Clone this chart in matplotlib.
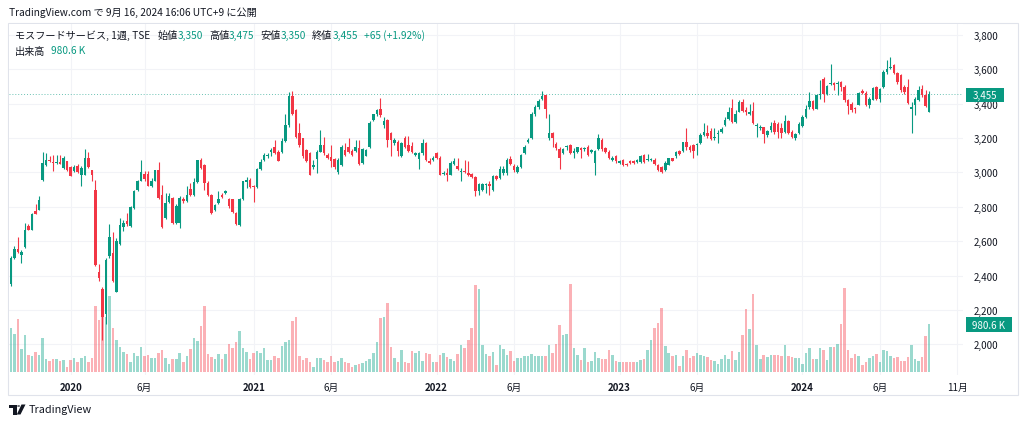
import matplotlib
matplotlib.use("Agg")
import matplotlib.pyplot as plt
from matplotlib.patches import Rectangle, Polygon, Circle
import numpy as np
import pandas as pd

plt.rcParams['font.family'] = ['Noto Sans CJK JP', 'DejaVu Sans']

# ---------------- data (weekly, from 2019-09-09) ----------------
start_date = '2019-09-09'
opens = [
 2351,2501,2553,2521,2567,2688,2665,2775,2781,2958,3045,3074,3060,3054,3060,3025,3064,3031,3006,3039,
 2987,2987,3083,3012,2900,2423,2322,2178,2515,2534,2307,2582,2683,2717,2688,2794,2900,2952,2993,2993,
 2923,2952,3012,2868,2733,2829,2852,2704,2704,2848,2833,2906,2868,2943,3070,3045,2939,2871,2781,2823,
 2868,2881,2843,2843,2765,2694,2848,2945,2954,2923,2916,
 3022,3074,3093,3122,3147,3118,3118,3185,3276,3446,3362,3228,3199,3131,3112,3029,3078,3122,3160,3103,
 3089,3079,3000,3041,3131,3151,3126,3126,3141,3054,3097,3151,3305,3338,3372,3276,3305,3228,3170,3180,
 3097,3199,3160,3154,3102,3078,3112,3170,3068,3074,3112,3087,2991,2997,2987,3049,3035,3002,3010,2997,
 2991,2972,2894,2900,2925,2933,2900,2977,2968,
 2997,2997,3078,3039,3000,3029,3112,3176,3199,3338,3382,3430,3449,3199,3228,3166,3137,3112,3147,3157,
 3112,3118,3145,3137,3147,3118,3058,3135,3189,3141,3122,3072,3093,3054,3074,3049,3064,3064,3060,3060,
 3099,3070,3074,3074,3045,3029,3012,3045,3083,3093,3126,3126,3176,3151,3160,3157,3170,3218,3228,3243,
 3199,3222,3237,3276,3309,3376,3295,3353,
 3411,3363,3343,3359,3272,3257,3262,3218,3247,3286,3282,3257,3233,3299,3233,3199,3228,3272,3324,3382,
 3415,3372,3449,3546,3459,3513,3521,3517,3526,3497,3420,3401,3376,3395,3472,3465,3392,3424,3498,3430,
 3498,3584,3607,3627,3580,3565,3498,3498,3368,3392,3420,3484,3449,3350]
highs = [
 2515,2573,2627,2548,2708,2702,2765,2814,2862,3122,3112,3093,3099,3103,3099,3093,3068,3035,3041,3049,
 3035,3135,3118,3016,2954,2467,2332,2505,2698,2654,2621,2737,2721,2765,2804,2900,2958,3074,3006,3006,
 2968,3016,3060,2929,2881,2881,2856,2814,2862,2856,2920,2939,2968,3074,3087,3049,2948,2875,2814,2891,
 2881,2900,2852,2848,2771,2852,2952,2972,2968,2929,3025,
 3078,3112,3112,3141,3189,3131,3199,3343,3469,3472,3372,3286,3203,3137,3118,3074,3131,3247,3208,3112,
 3160,3083,3083,3160,3170,3199,3137,3189,3189,3145,3137,3299,3343,3372,3436,3324,3314,3237,3199,3189,
 3180,3214,3214,3180,3122,3118,3195,3176,3083,3093,3122,3093,3006,3026,3064,3083,3083,3026,3074,3064,
 2997,2977,2939,2939,2939,2948,2983,2987,3035,
 3035,3083,3093,3049,3041,3106,3160,3199,3353,3392,3430,3472,3453,3343,3237,3180,3151,3141,3160,3164,
 3141,3151,3151,3151,3160,3137,3131,3222,3203,3151,3131,3093,3099,3074,3079,3054,3074,3074,3079,3103,
 3106,3106,3087,3083,3049,3035,3064,3087,3087,3126,3131,3180,3257,3160,3164,3170,3228,3286,3276,3257,
 3257,3247,3266,3324,3382,3426,3363,3420,
 3430,3382,3401,3411,3286,3276,3266,3247,3295,3305,3295,3286,3334,3305,3247,3228,3291,3334,3392,3469,
 3420,3459,3536,3555,3511,3632,3526,3530,3530,3507,3430,3411,3382,3469,3484,3472,3440,3498,3503,3492,
 3594,3652,3671,3632,3584,3575,3507,3546,3411,3440,3503,3507,3478,3475]
lows = [
 2342,2496,2534,2476,2563,2663,2663,2756,2779,2952,3035,3060,3006,3049,3049,3022,3006,2977,3000,2997,
 2923,2983,3025,2948,2457,2370,2024,2120,2505,2361,2303,2579,2659,2688,2683,2790,2894,2948,2952,2920,
 2914,2948,2848,2679,2727,2823,2702,2698,2679,2823,2829,2862,2862,2939,3022,2900,2862,2756,2775,2817,
 2852,2875,2794,2765,2692,2688,2842,2910,2910,2830,2910,
 3016,3064,3083,3093,3106,3064,3112,3180,3266,3334,3203,3151,3087,3060,2983,3022,2997,3118,3103,3078,
 3029,3022,2991,3035,3093,3112,3097,3122,3045,3049,3093,3145,3299,3330,3324,3257,3151,3093,3160,3093,
 3091,3141,3118,3112,3093,3022,3103,3068,3049,3064,3079,2983,2987,2948,2983,3041,3016,2948,2997,2977,
 2968,2862,2871,2891,2881,2871,2894,2958,2964,
 2987,2987,3041,3002,2997,3026,3106,3170,3195,3330,3372,3424,3318,3189,3151,3131,3022,3106,3131,3106,
 3083,3112,3083,3126,3093,3112,2987,3131,3126,3112,3079,3068,3054,3049,3035,3035,3049,3049,3054,3054,
 3054,3064,3068,3045,3010,2997,3006,3041,3064,3087,3103,3122,3131,3122,3083,3103,3164,3214,3203,3189,
 3189,3170,3228,3272,3305,3286,3286,3349,
 3349,3334,3334,3280,3209,3247,3170,3209,3237,3222,3203,3203,3228,3222,3203,3189,3222,3266,3318,3372,
 3363,3368,3430,3411,3453,3507,3478,3453,3472,3411,3338,3353,3347,3392,3459,3388,3376,3420,3420,3411,
 3492,3575,3603,3575,3517,3469,3459,3401,3228,3334,3415,3440,3382,3350]
closes = [
 2501,2553,2538,2540,2663,2665,2760,2760,2842,3054,3074,3068,3054,3060,3052,3083,3012,2981,3031,3000,
 3025,3083,3029,2987,2461,2386,2158,2492,2625,2370,2602,2694,2708,2698,2798,2894,2952,3000,2964,2923,
 2952,3012,2852,2683,2823,2862,2708,2804,2852,2833,2868,2868,2943,3070,3025,2939,2871,2762,2808,2846,
 2856,2891,2804,2771,2698,2846,2948,2954,2916,2916,3020,
 3060,3103,3103,3131,3112,3068,3185,3276,3446,3343,3209,3160,3093,3068,2987,3045,3122,3160,3112,3083,
 3064,3029,3074,3151,3103,3122,3103,3151,3049,3137,3131,3289,3338,3366,3334,3299,3189,3189,3189,3126,
 3170,3151,3126,3122,3112,3112,3170,3074,3058,3083,3087,2987,2997,2987,3054,3068,3022,3010,3002,2987,
 2972,2891,2933,2933,2933,2920,2977,2962,3022,
 3022,3074,3049,3012,3029,3099,3151,3189,3338,3382,3415,3446,3372,3228,3203,3145,3087,3135,3155,3112,
 3126,3147,3131,3145,3103,3128,3126,3199,3137,3118,3087,3087,3064,3064,3041,3041,3054,3054,3074,3093,
 3060,3078,3078,3051,3016,3002,3054,3083,3068,3122,3106,3176,3151,3131,3126,3160,3218,3237,3214,3195,
 3208,3232,3253,3305,3353,3291,3343,3411,
 3357,3349,3353,3286,3276,3261,3222,3241,3272,3233,3233,3228,3301,3228,3209,3222,3282,3324,3372,3415,
 3368,3449,3455,3459,3503,3517,3511,3521,3497,3420,3388,3363,3372,3465,3465,3392,3430,3492,3426,3488,
 3584,3603,3613,3580,3526,3478,3469,3407,3382,3430,3478,3449,3388,3455]
volume_k = [
 908,770,1080,460,757,336,310,407,336,687,268,221,254,254,221,233,83,241,289,186,
 275,310,200,275,1356,1059,1156,1135,1562,888,646,516,407,357,200,372,310,516,324,336,
 289,289,392,440,275,151,268,268,378,200,324,460,687,634,929,1356,357,303,268,357,
 254,357,578,495,619,826,481,407,254,372,413,
 392,495,241,241,324,289,530,599,654,1046,1115,324,233,289,186,83,275,275,233,206,
 310,206,221,275,206,171,103,138,151,171,221,254,372,619,1100,1115,1424,516,289,200,
 440,200,171,413,392,413,221,372,357,206,186,345,372,303,254,221,357,551,481,646,
 908,1789,1699,551,357,310,407,138,543,
 460,345,419,221,289,275,324,324,351,324,324,324,310,543,392,563,964,749,770,1802,
 475,336,233,475,200,221,407,289,268,268,440,336,221,186,186,186,200,206,186,233,
 254,448,646,888,1011,1321,530,372,324,336,118,324,440,275,310,378,336,310,303,233,
 221,151,268,336,268,413,233,407,
 757,1294,881,1604,551,262,345,295,345,345,345,316,551,316,295,283,283,159,378,481,
 262,262,481,448,241,502,516,572,985,1719,448,275,351,330,138,192,275,316,351,192,
 448,433,330,275,295,213,227,295,537,248,227,295,743,980.6]

tick_months = [(2020, 1), (2020, 6), (2021, 1), (2021, 6), (2022, 1), (2022, 6),
               (2023, 1), (2023, 6), (2024, 1), (2024, 6), (2024, 11)]
tick_labels = ['2020', '6月', '2021', '6月', '2022', '6月', '2023', '6月', '2024', '6月', '11月']
price_ticks = [2000, 2200, 2400, 2600, 2800, 3000, 3200, 3400, 3600, 3800]

title_text = "TradingView.com で 9月 16, 2024 16:06 UTC+9 に公開"
symbol_text = "モスフードサービス, 1週, TSE"
ohlc_names = ["始値", "高値", "安値", "終値"]
ohlc_vals = ["3,350", "3,475", "3,350", "3,455"]
change_text = "+65 (+1.92%)"
vol_name = "出来高"
vol_text = "980.6 K"
last_price = 3455
last_price_text = "3,455"

# ---------------- styling ----------------
W, H = 1024, 427
UP, DOWN = '#089981', '#f23645'
VUP, VDOWN = '#22ab94', '#f7525f'
TXT = '#131722'
GRID = '#f2f3f7'

O = np.array(opens, float); Hh = np.array(highs, float)
L = np.array(lows, float); C = np.array(closes, float)
V = np.array(volume_k, float)
n = len(C)
idx = np.arange(n)
up = C >= O

axis_dates = pd.date_range(start_date, periods=n + 20, freq='W-MON')
tick_idx = [int(np.argmax(axis_dates >= pd.Timestamp(y, m, 1))) for (y, m) in tick_months]

fig = plt.figure(figsize=(W / 100, H / 100), dpi=100)
fig.patch.set_facecolor('white')

def fx(x): return x / W
def fy(y): return 1 - y / H

left, right, top, bottom = 9, 963, 25, 376
rect = [fx(left), fy(bottom), (right - left) / W, (bottom - top) / H]

def px_to_price(y):
    return 3800 - (y - 36) * (1800 / (345.3 - 36))
def px_to_idx(x):
    return (x - 10.9) / 3.518

xlim = (px_to_idx(left), px_to_idx(right))
ylim = (px_to_price(bottom), px_to_price(top))
vol_per_px = 980.6 / 47.5
vlim = (-(bottom - 372.5) * vol_per_px, (372.5 - top) * vol_per_px)

ax_grid = fig.add_axes(rect, zorder=0)
ax_vol = fig.add_axes(rect, zorder=1)
ax = fig.add_axes(rect, zorder=2)
for a in (ax_grid, ax_vol, ax):
    a.set_xlim(*xlim)
    for s in a.spines.values():
        s.set_visible(False)
ax_vol.patch.set_visible(False)
ax.patch.set_visible(False)
ax_grid.set_ylim(*ylim)
ax.set_ylim(*ylim)
ax_vol.set_ylim(*vlim)

# grid
for p in price_ticks:
    ax_grid.axhline(p, color=GRID, lw=0.8, zorder=0)
for t in tick_idx:
    ax_grid.axvline(t, color=GRID, lw=0.8, zorder=0)
ax_grid.set_xticks([]); ax_grid.set_yticks([])
ax_vol.set_xticks([]); ax_vol.set_yticks([])

# volume
ax_vol.bar(idx, V, width=0.72, color=np.where(up, VUP, VDOWN), alpha=0.45, linewidth=0)

# candles
ccol = np.where(up, UP, DOWN)
ax.vlines(idx, L, Hh, colors=ccol, linewidth=0.8, zorder=2)
body_low = np.minimum(O, C)
body_h = np.maximum(np.abs(C - O), 6)
ax.bar(idx, body_h, bottom=body_low, width=0.72, color=ccol, linewidth=0, zorder=3)

# last price dotted line
ax.axhline(last_price, color=UP, lw=0.7, ls=(0, (1, 2)), alpha=0.6, zorder=1)

# axes ticks
ax.yaxis.tick_right()
ax.set_yticks(price_ticks)
ax.set_yticklabels([f"{p:,}" for p in price_ticks])
ax.tick_params(axis='y', length=0, pad=8, labelsize=7, colors=TXT)
ax.set_xticks(tick_idx)
ax.set_xticklabels(tick_labels)
ax.tick_params(axis='x', length=0, pad=5, labelsize=7, colors=TXT)
for lab in ax.get_xticklabels():
    if lab.get_text().isdigit():
        lab.set_fontweight('bold')

# frame
fig.add_artist(Rectangle((fx(8), fy(396)), 1010 / W, 372 / H, transform=fig.transFigure,
                         fill=False, edgecolor='#e0e3eb', lw=0.8, zorder=0))

# price labels on the axis
def axis_box(x0, x1, yc, text):
    fig.add_artist(Rectangle((fx(x0), fy(yc + 7.2)), (x1 - x0) / W, 14.4 / H,
                             transform=fig.transFigure, facecolor=UP, edgecolor='none', zorder=10))
    fig.text(fx((x0 + x1) / 2), fy(yc), text, color='white', fontsize=7, ha='center',
             va='center', zorder=11)

axis_box(966, 1004, 95.8, last_price_text)
axis_box(966, 1012, 325.6, vol_text)

# header texts
fig.text(fx(9), fy(12.5), title_text, fontsize=7.3, color=TXT, ha='left', va='center')

renderer = fig.canvas.get_renderer()

def runs(x, y, items, size):
    for item in items:
        if isinstance(item, (int, float)):
            x += item
            continue
        txt, col = item
        t = fig.text(fx(x), fy(y), txt, fontsize=size, color=col, ha='left', va='center')
        x += t.get_window_extent(renderer).width

line1 = [(symbol_text, TXT), 7]
for nm, vl in zip(ohlc_names, ohlc_vals):
    line1 += [(nm, TXT), (vl, UP), 6]
line1 += [(change_text, UP)]
runs(15, 36, line1, 7.3)
runs(15, 51.5, [(vol_name, TXT), 6, (vol_text, UP)], 7.3)

# TradingView logo at bottom
def pxpoly(pts):
    return [(fx(a), fy(b)) for a, b in pts]
fig.add_artist(Polygon(pxpoly([(9, 405.5), (16.5, 405.5), (16.5, 415.5), (13.3, 415.5),
                               (13.3, 408.5), (9, 408.5)]), closed=True,
                       transform=fig.transFigure, color=TXT, lw=0))
fig.add_artist(Circle((fx(18.6), fy(407)), 1.5 / W, transform=fig.transFigure, color=TXT, lw=0))
fig.add_artist(Polygon(pxpoly([(21.5, 405.5), (25.5, 405.5), (20.5, 415.5), (16.8, 415.5)]),
                       closed=True, transform=fig.transFigure, color=TXT, lw=0))
fig.text(fx(28.5), fy(410.5), "TradingView", fontsize=7.8, color=TXT, ha='left', va='center')

fig.savefig('out.png', dpi=100, facecolor='white')
